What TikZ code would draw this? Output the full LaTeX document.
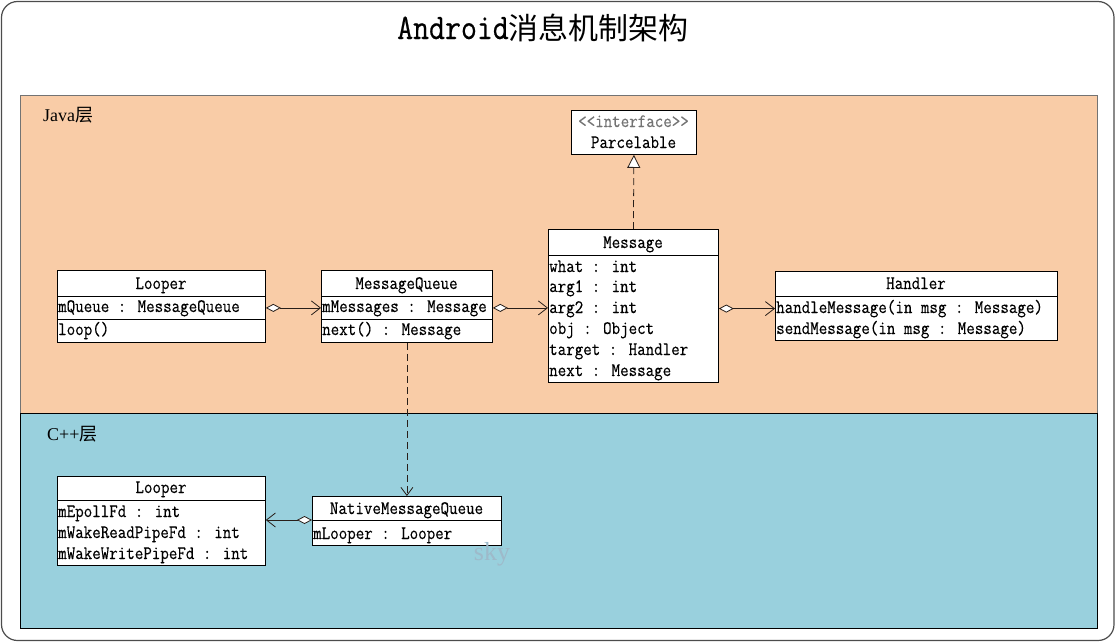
\documentclass[tikz,border=0pt]{standalone}
\usepackage{fontspec}
\usetikzlibrary{arrows.meta}
\newfontfamily\monof[FakeStretch=0.87,FakeBold=0.3]{Latin Modern Mono}
\newfontfamily\titlef[FakeStretch=0.86,FakeBold=0.5]{Latin Modern Mono}
\newfontfamily\cjkf{Noto Sans CJK SC}
\newfontfamily\serff{Liberation Serif}
\newcommand\mf{\monof\fontsize{19}{21}\selectfont}
\definecolor{javabg}{RGB}{249,204,167}
\definecolor{cppbg}{RGB}{153,208,221}
\definecolor{linec}{RGB}{40,30,25}
\definecolor{skyc}{RGB}{158,186,202}
\tikzset{
  cls/.style={draw=black, line width=0.8pt, fill=white, anchor=north west, inner sep=0pt},
  hd/.style={anchor=base, inner sep=0pt, font=\mf},
  ln/.style={anchor=base west, inner sep=0pt, font=\mf},
  agg/.style={draw=linec, line width=0.8pt, {Diamond[fill=white,length=15,width=8]}-{Straight Barb[length=9,width=14]}},
  real/.style={draw=linec, line width=0.8pt, dash pattern=on 7pt off 4pt, -{Triangle[fill=white,length=13,width=13]}},
  dep/.style={draw=linec, line width=0.8pt, dash pattern=on 7pt off 4pt, -{Straight Barb[length=8,width=12]}},
}
\begin{document}
\begin{tikzpicture}[x=1pt,y=-1pt]
\useasboundingbox (0,0) rectangle (1116,643);
% frame and layers
\draw[rounded corners=16, draw=black!70, line width=1.2pt, fill=white] (1.5,1.5) rectangle (1114,640.5);
\draw[draw=black!55, line width=1pt, fill=javabg] (20,95) rectangle (1097,413);
\draw[draw=black, line width=1pt, fill=cppbg] (20,413) rectangle (1097,628);
% title and labels
\node[anchor=base, inner sep=0pt] (title) at (543,39) {{\titlef\fontsize{36}{40}\selectfont Android}{\cjkf\fontsize{30}{40}\selectfont 消息机制架构}};
\node[anchor=base west, inner sep=0pt] (javalbl) at (43,121) {{\serff\fontsize{18}{20}\selectfont Java}{\cjkf\fontsize{18}{20}\selectfont 层}};
\node[anchor=base west, inner sep=0pt] (cpplbl) at (47,440) {{\serff\fontsize{18}{20}\selectfont C++}{\cjkf\fontsize{18}{20}\selectfont 层}};
% Java Looper
\node[cls, minimum width=208, minimum height=26] (jlH) at (57,270) {};
\node[cls, minimum width=208, minimum height=23] (jlA) at (57,296) {};
\node[cls, minimum width=208, minimum height=23] (jlM) at (57,319) {};
\node[hd] (jlT) at (161,289) {Looper};
\node[ln] (jl1) at (58,312) {mQueue : MessageQueue};
\node[ln] (jl2) at (58,335) {loop()};
% MessageQueue
\node[cls, minimum width=171, minimum height=26] (mqH) at (321,270) {};
\node[cls, minimum width=171, minimum height=23] (mqA) at (321,296) {};
\node[cls, minimum width=171, minimum height=23] (mqM) at (321,319) {};
\node[hd] (mqT) at (406.5,289) {MessageQueue};
\node[ln] (mq1) at (322,312) {mMessages : Message};
\node[ln] (mq2) at (322,335) {next() : Message};
% Message
\node[cls, minimum width=170, minimum height=26] (msgH) at (548,229) {};
\node[cls, minimum width=170, minimum height=127] (msgA) at (548,255) {};
\node[hd] (msgT) at (633,248) {Message};
\node[ln] (ms1) at (549,272) {what : int};
\node[ln] (ms2) at (549,292) {arg1 : int};
\node[ln] (ms3) at (549,313) {arg2 : int};
\node[ln] (ms4) at (549,334) {obj : Object};
\node[ln] (ms5) at (549,355) {target : Handler};
\node[ln] (ms6) at (549,376) {next : Message};
% Parcelable
\node[cls, minimum width=125, minimum height=44] (parc) at (571,110) {};
\node[hd, text=black!55] (parcI) at (633.5,127) {<<interface>>};
\node[hd] (parcT) at (633.5,148) {Parcelable};
% Handler
\node[cls, minimum width=282, minimum height=25] (hdH) at (775,271) {};
\node[cls, minimum width=282, minimum height=44] (hdA) at (775,296) {};
\node[hd] (hdT) at (916,289) {Handler};
\node[ln] (hm1) at (776,313) {handleMessage(in msg : Message)};
\node[ln] (hm2) at (776,334) {sendMessage(in msg : Message)};
% C++ Looper
\node[cls, minimum width=208, minimum height=24] (clH) at (57,476) {};
\node[cls, minimum width=208, minimum height=65] (clA) at (57,500) {};
\node[hd] (clT) at (161,493) {Looper};
\node[ln] (cl1) at (58,517) {mEpollFd : int};
\node[ln] (cl2) at (58,538) {mWakeReadPipeFd : int};
\node[ln] (cl3) at (58,559) {mWakeWritePipeFd : int};
% NativeMessageQueue
\node[cls, minimum width=189, minimum height=24] (nmH) at (312,496) {};
\node[cls, minimum width=189, minimum height=25] (nmA) at (312,520) {};
\node[hd] (nmT) at (406.5,514) {NativeMessageQueue};
\node[ln] (nm1) at (313,539) {mLooper : Looper};
% watermark
\node[anchor=base, inner sep=0pt, text=skyc] (sky) at (492,560) {\serff\fontsize{26}{28}\selectfont sky};
% connectors
\draw[agg] (jlA.east) -- (mqA.west);
\draw[agg] (mqA.east) -- (msgA.west |- mqA.east);
\draw[agg] (msgA.east |- hm1.west) -- (hdA.west |- hm1.west);
\draw[real] (msgH.north) -- (parc.south);
\draw[dep] (mqM.south) -- (nmH.north);
\draw[agg] (nmA.north west) -- (clA.east |- nmA.north west);
\end{tikzpicture}
\end{document}
